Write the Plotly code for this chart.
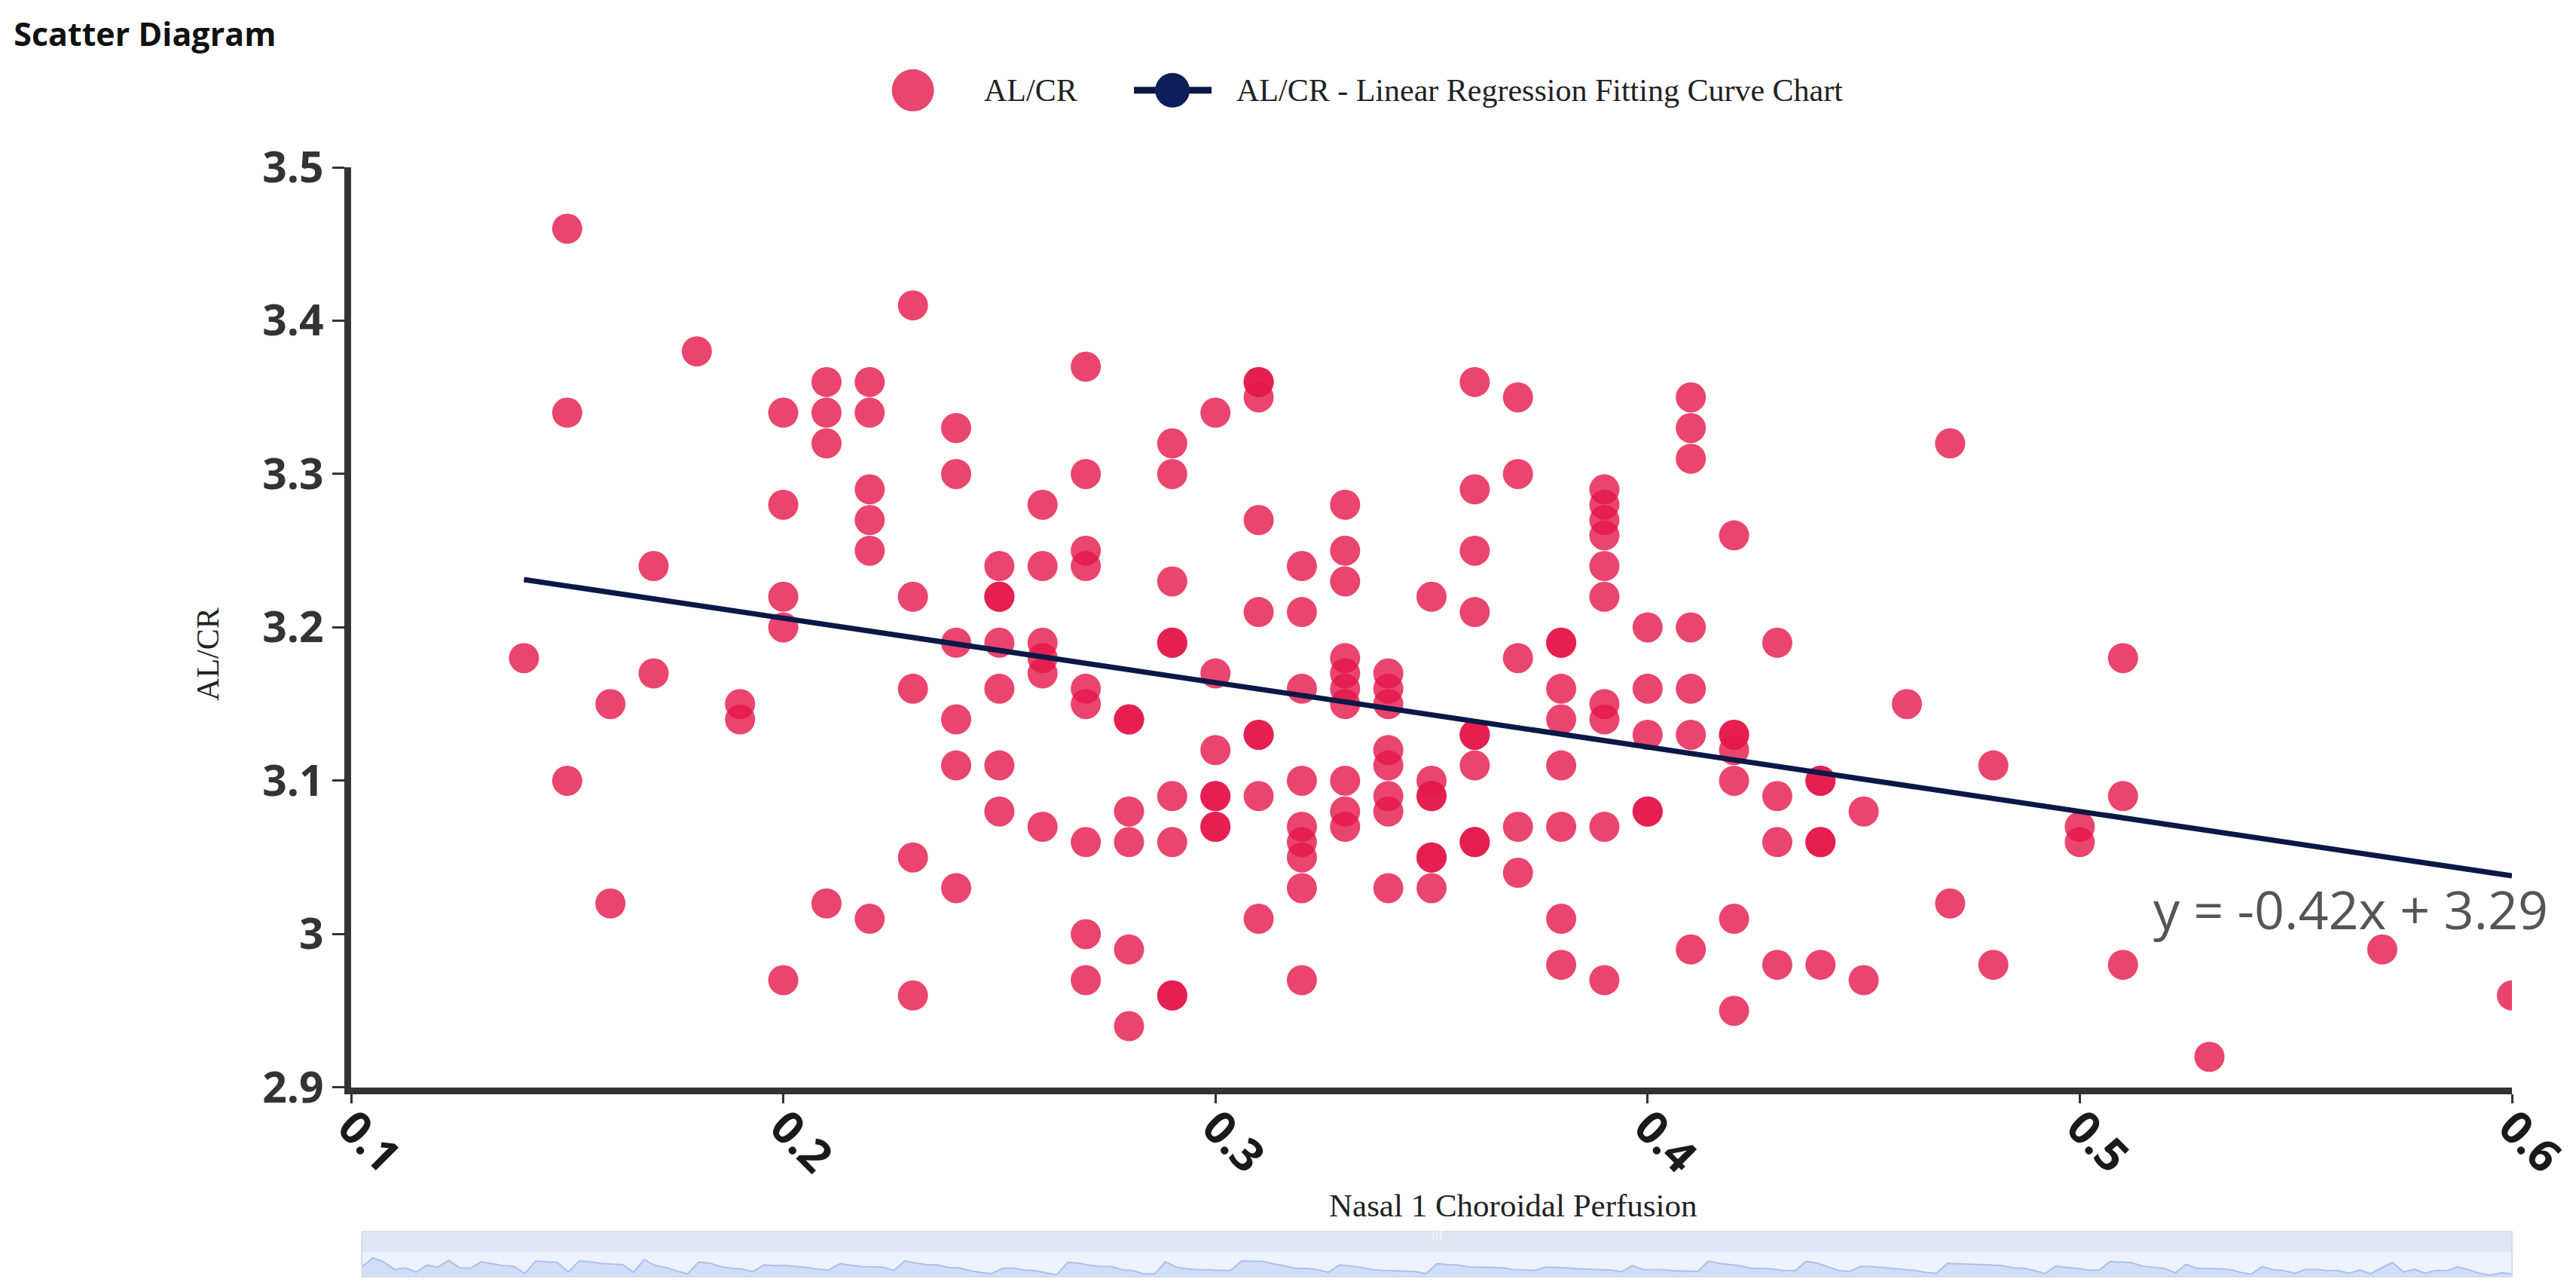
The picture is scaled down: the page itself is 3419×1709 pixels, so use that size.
import plotly.graph_objects as go

# Nasal 1 choroidal perfusion (x) vs AL/CR (y), one entry per subject
perfusion = [
    0.14,
    0.15, 0.15, 0.15,
    0.16, 0.16,
    0.17, 0.17,
    0.18,
    0.19, 0.19,
    0.20, 0.20, 0.20, 0.20, 0.20,
    0.21, 0.21, 0.21, 0.21,
    0.22, 0.22, 0.22, 0.22, 0.22, 0.22,
    0.23, 0.23, 0.23, 0.23, 0.23,
    0.24, 0.24, 0.24, 0.24, 0.24, 0.24,
    0.25, 0.25, 0.25, 0.25, 0.25, 0.25, 0.25,
    0.26, 0.26, 0.26, 0.26, 0.26, 0.26,
    0.27, 0.27, 0.27, 0.27, 0.27, 0.27, 0.27, 0.27, 0.27,
    0.28, 0.28, 0.28, 0.28, 0.28, 0.28,
    0.29, 0.29, 0.29, 0.29, 0.29, 0.29, 0.29, 0.29, 0.29,
    0.30, 0.30, 0.30, 0.30, 0.30, 0.30, 0.30,
    0.31, 0.31, 0.31, 0.31, 0.31, 0.31, 0.31, 0.31, 0.31,
    0.32, 0.32, 0.32, 0.32, 0.32, 0.32, 0.32, 0.32, 0.32,
    0.33, 0.33, 0.33, 0.33, 0.33, 0.33, 0.33, 0.33, 0.33, 0.33,
    0.34, 0.34, 0.34, 0.34, 0.34, 0.34, 0.34, 0.34,
    0.35, 0.35, 0.35, 0.35, 0.35, 0.35, 0.35,
    0.36, 0.36, 0.36, 0.36, 0.36, 0.36, 0.36, 0.36, 0.36,
    0.37, 0.37, 0.37, 0.37, 0.37,
    0.38, 0.38, 0.38, 0.38, 0.38, 0.38, 0.38, 0.38,
    0.39, 0.39, 0.39, 0.39, 0.39, 0.39, 0.39, 0.39, 0.39, 0.39,
    0.40, 0.40, 0.40, 0.40, 0.40,
    0.41, 0.41, 0.41, 0.41, 0.41, 0.41, 0.41,
    0.42, 0.42, 0.42, 0.42, 0.42, 0.42, 0.42,
    0.43, 0.43, 0.43, 0.43,
    0.44, 0.44, 0.44, 0.44, 0.44,
    0.45, 0.45,
    0.46,
    0.47, 0.47,
    0.48, 0.48,
    0.50, 0.50,
    0.51, 0.51, 0.51,
    0.53,
    0.57,
    0.60,
]
al_cr = [
    3.18,
    3.46, 3.34, 3.10,
    3.15, 3.02,
    3.24, 3.17,
    3.38,
    3.15, 3.14,
    3.34, 3.28, 3.22, 3.20, 2.97,
    3.36, 3.34, 3.32, 3.02,
    3.36, 3.34, 3.29, 3.27, 3.25, 3.01,
    3.41, 3.22, 3.16, 3.05, 2.96,
    3.33, 3.30, 3.19, 3.14, 3.11, 3.03,
    3.24, 3.22, 3.22, 3.19, 3.16, 3.11, 3.08,
    3.28, 3.24, 3.19, 3.18, 3.17, 3.07,
    3.37, 3.30, 3.25, 3.24, 3.16, 3.15, 3.06, 3.00, 2.97,
    3.14, 3.14, 3.08, 3.06, 2.99, 2.94,
    3.32, 3.30, 3.23, 3.19, 3.19, 3.09, 3.06, 2.96, 2.96,
    3.34, 3.17, 3.12, 3.09, 3.09, 3.07, 3.07,
    3.36, 3.36, 3.35, 3.27, 3.21, 3.13, 3.13, 3.09, 3.01,
    3.24, 3.21, 3.16, 3.10, 3.07, 3.06, 3.05, 3.03, 2.97,
    3.28, 3.25, 3.23, 3.18, 3.17, 3.16, 3.15, 3.10, 3.08, 3.07,
    3.17, 3.16, 3.15, 3.12, 3.11, 3.09, 3.08, 3.03,
    3.22, 3.10, 3.09, 3.09, 3.05, 3.05, 3.03,
    3.36, 3.29, 3.25, 3.21, 3.13, 3.13, 3.11, 3.06, 3.06,
    3.35, 3.30, 3.18, 3.07, 3.04,
    3.19, 3.19, 3.16, 3.14, 3.11, 3.07, 3.01, 2.98,
    3.29, 3.28, 3.27, 3.26, 3.24, 3.22, 3.15, 3.14, 3.07, 2.97,
    3.20, 3.16, 3.13, 3.08, 3.08,
    3.35, 3.33, 3.31, 3.20, 3.16, 3.13, 2.99,
    3.26, 3.13, 3.13, 3.12, 3.10, 3.01, 2.95,
    3.19, 3.09, 3.06, 2.98,
    3.10, 3.10, 3.06, 3.06, 2.98,
    3.08, 2.97,
    3.15,
    3.32, 3.02,
    3.11, 2.98,
    3.07, 3.06,
    3.18, 3.09, 2.98,
    2.92,
    2.99,
    2.96,
]

# fitted line as printed on the chart
fit_slope = -0.42
fit_intercept = 3.29

x_ticks = [0.1, 0.2, 0.3, 0.4, 0.5, 0.6]
x_tick_labels = ["0.1", "0.2", "0.3", "0.4", "0.5", "0.6"]
y_ticks = [2.9, 3.0, 3.1, 3.2, 3.3, 3.4, 3.5]
y_tick_labels = ["2.9", "3", "3.1", "3.2", "3.3", "3.4", "3.5"]

point_color = "rgba(227,23,74,0.8)"
line_color = "#0b1846"
serif = "Liberation Serif"

fit_x = [min(perfusion), max(perfusion)]
fit_y = [fit_slope * v + fit_intercept for v in fit_x]

fig = go.Figure()
fig.add_trace(go.Scatter(
    x=perfusion, y=al_cr, mode="markers", name="AL/CR",
    marker=dict(size=40, color=point_color, line=dict(width=0)),
    showlegend=False,
))
fig.add_trace(go.Scatter(
    x=fit_x, y=fit_y, mode="lines",
    name="AL/CR - Linear Regression Fitting Curve Chart",
    line=dict(color=line_color, width=7),
    showlegend=False,
))
# data shadow of the zoom slider under the chart
fig.add_trace(go.Scatter(
    x=list(range(len(al_cr))), y=al_cr, mode="lines",
    xaxis="x2", yaxis="y2", fill="tozeroy",
    fillcolor="rgba(190,208,245,0.6)",
    line=dict(color="rgb(172,192,235)", width=2),
    hoverinfo="skip", showlegend=False,
))

fig.add_annotation(
    x=0.5627, y=3.0165, text="y = -0.42x + 3.29", showarrow=False,
    xanchor="center", yanchor="middle",
    font=dict(family="Open Sans", size=70, color="#555"),
)
# axis titles
fig.add_annotation(
    xref="paper", yref="paper", x=0.5377, y=0.0526,
    text="Nasal 1 Choroidal Perfusion", showarrow=False,
    font=dict(family=serif, size=43, color="#222"),
)
fig.add_annotation(
    xref="paper", yref="paper", x=-0.075, y=0.5638, textangle=-90,
    text="AL/CR", showarrow=False,
    font=dict(family=serif, size=42, color="#222"),
)

# legend drawn by hand so the symbols keep their size
legend_y = 1.069
fig.add_shape(type="circle", xref="paper", yref="paper",
              xsizemode="pixel", ysizemode="pixel",
              xanchor=0.2600, yanchor=legend_y, x0=-28, x1=28, y0=-28, y1=28,
              fillcolor=point_color, line=dict(width=0))
fig.add_shape(type="line", xref="paper", yref="paper",
              x0=0.3623, x1=0.3982, y0=legend_y, y1=legend_y,
              line=dict(color=line_color, width=9))
fig.add_shape(type="circle", xref="paper", yref="paper",
              xsizemode="pixel", ysizemode="pixel",
              xanchor=0.3801, yanchor=legend_y, x0=-23, x1=23, y0=-23, y1=23,
              fillcolor="#0c1f5a", line=dict(width=0))
fig.add_annotation(xref="paper", yref="paper", x=0.2922, y=legend_y,
                   xanchor="left", yanchor="middle", showarrow=False,
                   text="AL/CR", font=dict(family=serif, size=42, color="#222"))
fig.add_annotation(xref="paper", yref="paper", x=0.4090, y=legend_y,
                   xanchor="left", yanchor="middle", showarrow=False,
                   text="AL/CR - Linear Regression Fitting Curve Chart",
                   font=dict(family=serif, size=42, color="#222"))

# slider frame
slider_lo, slider_mid, slider_hi = 0.006, 0.0283, 0.0465
fig.add_shape(type="rect", xref="paper", yref="paper", layer="below",
              x0=0.005, x1=1.0, y0=slider_mid, y1=slider_hi,
              fillcolor="#e0e6f1", line=dict(width=0))
fig.add_shape(type="rect", xref="paper", yref="paper", layer="below",
              x0=0.005, x1=1.0, y0=slider_lo, y1=slider_mid,
              fillcolor="#edf2fd", line=dict(width=0))
fig.add_shape(type="rect", xref="paper", yref="paper",
              x0=0.005, x1=1.0, y0=slider_lo, y1=slider_hi,
              line=dict(color="#d2dbee", width=2))
fig.add_annotation(xref="paper", yref="paper", x=0.5025,
                   y=(slider_mid + slider_hi) / 2,
                   text="|||", showarrow=False,
                   font=dict(family="DejaVu Sans", size=14, color="#ffffff"))

fig.update_layout(
    width=3419, height=1709, autosize=False,
    margin=dict(l=458, r=93, t=214, b=14, pad=0),
    paper_bgcolor="white", plot_bgcolor="white",
    showlegend=False,
    title=dict(
        text="Scatter Diagram", xref="container", yref="container",
        x=0.003, xanchor="left", y=0.978, yanchor="middle",
        font=dict(family="Open Sans", size=43, color="#111", weight="bold"),
    ),
    xaxis=dict(
        domain=[0, 1], anchor="y", range=[0.1, 0.6],
        tickmode="array", tickvals=x_ticks, ticktext=x_tick_labels,
        tickangle=45, ticks="outside", ticklen=12, tickwidth=3, tickcolor="#333",
        ticklabelstandoff=-28,
        showline=True, linewidth=9, linecolor="#333",
        showgrid=False, zeroline=False, automargin=False,
        tickfont=dict(family="Open Sans", size=60, color="#1a1a1a", weight="bold"),
    ),
    yaxis=dict(
        domain=[0.1756, 1], anchor="x", range=[2.9, 3.5],
        tickmode="array", tickvals=y_ticks, ticktext=y_tick_labels,
        ticks="outside", ticklen=16, tickwidth=3, tickcolor="#333",
        showline=True, linewidth=9, linecolor="#333",
        showgrid=False, zeroline=False, automargin=False,
        tickfont=dict(family="Open Sans", size=57, color="#333", weight="bold"),
    ),
    xaxis2=dict(domain=[0.005, 1.0], anchor="y2", visible=False,
                range=[0, len(al_cr) - 1], fixedrange=True),
    yaxis2=dict(domain=[slider_lo, slider_mid], anchor="x2", visible=False,
                range=[2.87, 3.65], fixedrange=True),
)

fig.write_html("out.html")
